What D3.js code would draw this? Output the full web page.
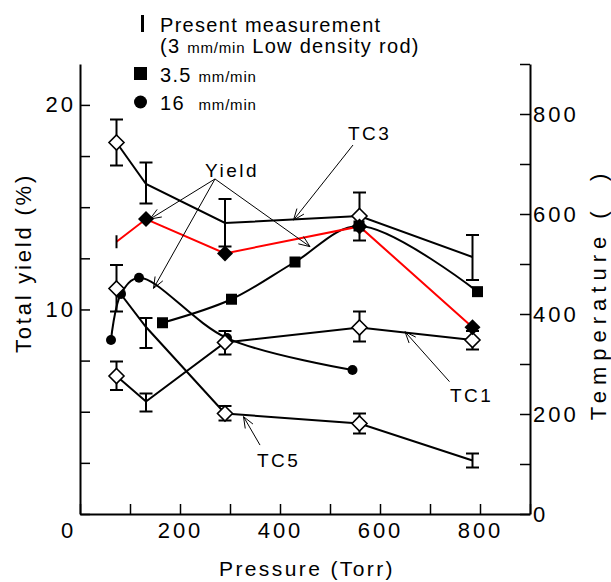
<!DOCTYPE html>
<html><head><meta charset="utf-8">
<script src="https://cdn.jsdelivr.net/npm/d3@7"></script>
<style>
body{margin:0;background:#fff}
text{font-family:"Liberation Sans",Arial,sans-serif;fill:#000}
</style>
</head><body>
<svg id="c" width="611" height="582"></svg>
<script>
// ---- data ----
const tcPressure = [73, 132, 290, 559, 785];
const tc3Temp = [743, 660, 582, 596, 514];
const tc3Hi   = [789, 703, 630, 643, 558];
const tc3Lo   = [697, 621, 535, 547, 468];
const tc3Mark = ["diamond", "bar", "bar", "diamond", "bar"];

const tc1Temp = [276, 225, 343, 373, 348];
const tc1Hi   = [305, 241, 366, 405, 366];
const tc1Lo   = [248, 205, 319, 345, 329];
const tc1Mark = ["diamond", "bar", "diamond", "diamond", "diamond"];

const tc5Temp = [451, 374, 201, 181, 107];
const tc5Hi   = [498, 392, 216, 201, 121];
const tc5Lo   = [405, 332, 187, 161, 93];
const tc5Mark = ["diamond", "bar", "diamond", "diamond", "bar"];

const presentPressure = [73, 132, 290, 559, 785];
const presentYield    = [13.31, 14.42, 12.74, 14.06, 9.13];
const presentMark     = ["tick", "fdiamond", "fdiamond", "fdiamond", "fdiamond"];

const sq35Pressure = [165, 303, 430, 558, 795];
const sq35Yield    = [9.35, 10.50, 12.32, 14.08, 10.87];

const c16Pressure = [62, 82, 118, 294, 545];
const c16Yield    = [8.51, 10.76, 11.55, 8.60, 7.04];

const xTicks = [0, 100, 200, 300, 400, 500, 600, 700, 800, 900];
const xLabels = [0, 200, 400, 600, 800];
const yLTicks = [0, 2.5, 5, 7.5, 10, 12.5, 15, 17.5, 20];
const yLLabels = [10, 20];
const yRTicks = [0, 100, 200, 300, 400, 500, 600, 700, 800, 900];
const yRLabels = [0, 200, 400, 600, 800];

// annotations in data units (pressure, yield)
const annoTexts = [
  {t: "Yield", p: 304, y: 16.48, anchor: "middle"},
  {t: "TC3", p: 536, y: 18.28, anchor: "start"},
  {t: "TC1", p: 740, y: 5.48, anchor: "start"},
  {t: "TC5", p: 354, y: 2.30, anchor: "start"}
];
const annoArrows = [
  {p1: 270, y1: 16.38, p2: 140, y2: 14.42},
  {p1: 270, y1: 16.38, p2: 147, y2: 11.03},
  {p1: 270, y1: 16.38, p2: 460, y2: 13.07},
  {p1: 546, y1: 18.04, p2: 427, y2: 14.37},
  {p1: 739, y1: 6.47, p2: 650, y2: 8.91},
  {p1: 360, y1: 3.37, p2: 327, y2: 4.76}
];

// ---- scales ----
const x = d3.scaleLinear().domain([0, 900]).range([80, 530]);
const yL = d3.scaleLinear().domain([0, 22]).range([514, 64]);
const yR = d3.scaleLinear().domain([0, 900]).range([514, 64]);

const svg = d3.select("#c");

// ---- axes ----
const axL = svg.append("g").attr("transform", "translate(80,0)")
  .call(d3.axisLeft(yL).tickValues(yLTicks).tickSizeInner(-10).tickSizeOuter(0).tickPadding(4)
    .tickFormat(d => yLLabels.includes(d) ? d : ""));
const axB = svg.append("g").attr("transform", "translate(0,514)")
  .call(d3.axisBottom(x).tickValues(xTicks).tickSizeInner(-10).tickSizeOuter(0).tickPadding(8)
    .tickFormat(d => xLabels.includes(d) ? d : ""));
const axR = svg.append("g").attr("transform", "translate(530,0)")
  .call(d3.axisRight(yR).tickValues(yRTicks).tickSizeInner(-10).tickSizeOuter(0).tickPadding(3)
    .tickFormat(d => yRLabels.includes(d) ? d : ""));
[axL, axB, axR].forEach(a => {
  a.selectAll("path.domain").attr("stroke", "#000").attr("stroke-width", 2);
  a.selectAll(".tick line").attr("stroke", "#000").attr("stroke-width", 1.5);
  a.selectAll(".tick text").attr("font-family", '"Liberation Sans",Arial,sans-serif')
    .attr("font-size", 22).style("letter-spacing", "3px").attr("fill", "#000");
});
axB.selectAll(".tick text").filter(d => d === 0).attr("x", -12);

// axis titles
svg.append("text").attr("transform", "translate(31,263) rotate(-90)")
  .attr("text-anchor", "middle").attr("font-size", 22).style("letter-spacing", "2.8px")
  .text("Total yield (%)");
svg.append("text").attr("transform", "translate(606,294) rotate(-90)")
  .attr("text-anchor", "middle").attr("font-size", 22).style("letter-spacing", "6px")
  .style("white-space", "pre").text("Temperature (  )");
svg.append("text").attr("x", 307).attr("y", 576)
  .attr("text-anchor", "middle").attr("font-size", 21).style("letter-spacing", "2.4px")
  .text("Pressure (Torr)");

// ---- helpers ----
function diamondPath(cx, cy, r) {
  return `M${cx},${cy - r}L${cx + r},${cy}L${cx},${cy + r}L${cx - r},${cy}Z`;
}
const gLines = svg.append("g");
const gMarks = svg.append("g");
const gTop = svg.append("g");

function tcSeries(temps, his, los) {
  const pts = tcPressure.map((p, i) => [x(p), yR(temps[i])]);
  gLines.append("path").attr("d", d3.line()(pts))
    .attr("fill", "none").attr("stroke", "#000").attr("stroke-width", 2);
  tcPressure.forEach((p, i) => {
    const cx = x(p), yh = yR(his[i]), yl = yR(los[i]);
    const g = gMarks.append("g").attr("stroke", "#000").attr("stroke-width", 2);
    g.append("line").attr("x1", cx).attr("x2", cx).attr("y1", yh).attr("y2", yl);
    g.append("line").attr("x1", cx - 6.5).attr("x2", cx + 6.5).attr("y1", yh).attr("y2", yh);
    g.append("line").attr("x1", cx - 6.5).attr("x2", cx + 6.5).attr("y1", yl).attr("y2", yl);
  });
  return pts;
}
const tcPts = [
  [tcSeries(tc3Temp, tc3Hi, tc3Lo), tc3Mark],
  [tcSeries(tc1Temp, tc1Hi, tc1Lo), tc1Mark],
  [tcSeries(tc5Temp, tc5Hi, tc5Lo), tc5Mark]
];

// yield curves
const sqPts = sq35Pressure.map((p, i) => [x(p), yL(sq35Yield[i])]);
gLines.append("path").attr("d", d3.line().curve(d3.curveCatmullRom.alpha(0.5))(sqPts))
  .attr("fill", "none").attr("stroke", "#000").attr("stroke-width", 2);
const cPts = c16Pressure.map((p, i) => [x(p), yL(c16Yield[i])]);
gLines.append("path").attr("d", d3.line().curve(d3.curveCatmullRom.alpha(0.5))(cPts))
  .attr("fill", "none").attr("stroke", "#000").attr("stroke-width", 2);
const rPts = presentPressure.map((p, i) => [x(p), yL(presentYield[i])]);
gLines.append("path").attr("d", d3.line()(rPts))
  .attr("fill", "none").attr("stroke", "#ff0000").attr("stroke-width", 2);

// markers
sqPts.forEach(([cx, cy]) => gMarks.append("rect").attr("x", cx - 5.5).attr("y", cy - 5.5)
  .attr("width", 11).attr("height", 11).attr("fill", "#000"));
cPts.forEach(([cx, cy]) => gMarks.append("circle").attr("cx", cx).attr("cy", cy).attr("r", 5).attr("fill", "#000"));
tcPts.forEach(([pts, marks]) => pts.forEach(([cx, cy], i) => {
  if (marks[i] === "diamond") {
    gMarks.append("path").attr("d", diamondPath(cx, cy, 7.5)).attr("fill", "#fff")
      .attr("stroke", "#000").attr("stroke-width", 1.6);
  }
}));
rPts.forEach(([cx, cy], i) => {
  if (presentMark[i] === "tick") {
    gTop.append("line").attr("x1", cx).attr("x2", cx).attr("y1", cy - 6.5).attr("y2", cy + 6.5)
      .attr("stroke", "#000").attr("stroke-width", 2);
  } else {
    gTop.append("path").attr("d", diamondPath(cx, cy, 8)).attr("fill", "#000");
  }
});

// annotations
const gA = svg.append("g");
annoArrows.forEach(a => {
  const x1 = x(a.p1), y1 = yL(a.y1), x2 = x(a.p2), y2 = yL(a.y2);
  gA.append("line").attr("x1", x1).attr("y1", y1).attr("x2", x2).attr("y2", y2)
    .attr("stroke", "#000").attr("stroke-width", 1);
  const ang = Math.atan2(y1 - y2, x1 - x2), L = 12, w = 0.38;
  gA.append("path").attr("d",
    `M${x2 + L * Math.cos(ang + w)},${y2 + L * Math.sin(ang + w)}L${x2},${y2}L${x2 + L * Math.cos(ang - w)},${y2 + L * Math.sin(ang - w)}`)
    .attr("fill", "none").attr("stroke", "#000").attr("stroke-width", 1);
});
annoTexts.forEach(a => gA.append("text").attr("x", x(a.p)).attr("y", yL(a.y))
  .attr("text-anchor", a.anchor).attr("font-size", 19).style("letter-spacing", "2.5px").text(a.t));

// legend
const gLeg = svg.append("g");
gLeg.append("line").attr("x1", 142.5).attr("x2", 142.5).attr("y1", 15).attr("y2", 32)
  .attr("stroke", "#000").attr("stroke-width", 3);
gLeg.append("rect").attr("x", 134).attr("y", 67).attr("width", 13).attr("height", 13).attr("fill", "#000");
gLeg.append("circle").attr("cx", 140.5).attr("cy", 102).attr("r", 6.5).attr("fill", "#000");
function legText(yb, parts) {
  const t = gLeg.append("text").attr("x", 160).attr("y", yb).style("white-space", "pre");
  parts.forEach(([s, fs, ls]) => t.append("tspan").attr("font-size", fs).style("letter-spacing", ls + "px").text(s));
}
legText(31.7, [["Present measurement", 20, 1.3]]);
legText(53.3, [["(3 ", 20, 1.3], ["mm/min", 15, 0.8], [" Low density rod)", 20, 1.3]]);
legText(81.7, [["3.5 ", 20, 1.3], ["mm/min", 15, 0.8]]);
legText(110, [["16  ", 20, 1.3], ["mm/min", 15, 0.8]]);
</script>
</body></html>
